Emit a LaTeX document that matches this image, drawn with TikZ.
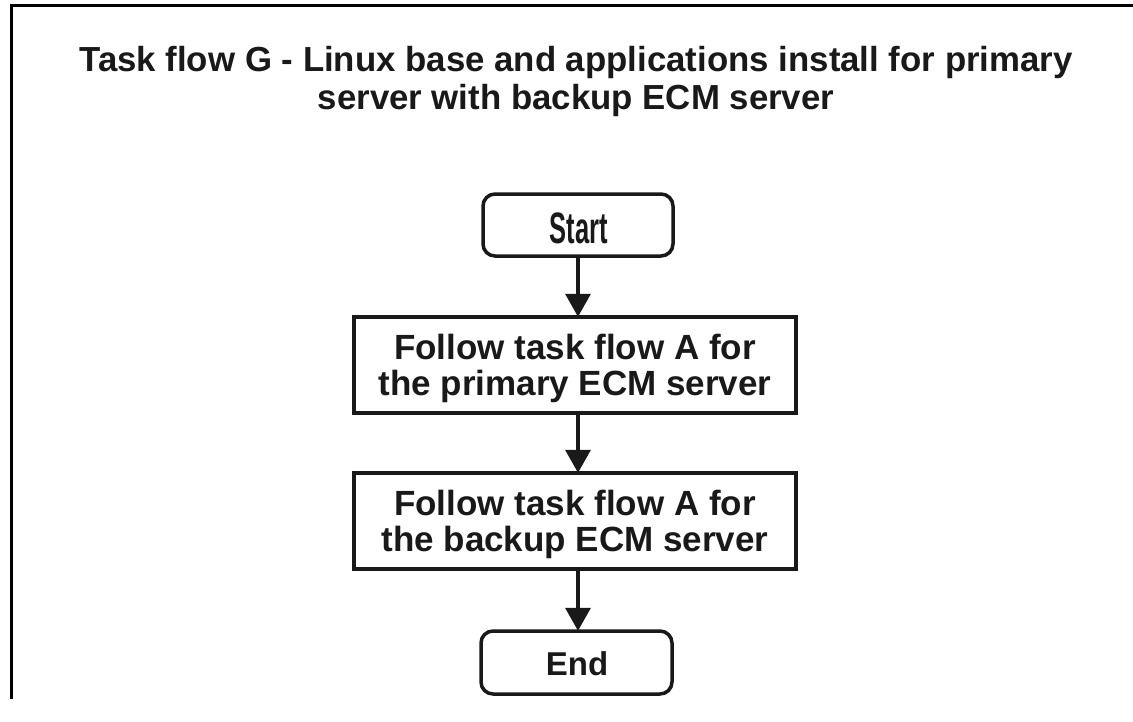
\documentclass[tikz,border=0pt]{standalone}
\usepackage{fontspec}
\setmainfont{Liberation Sans}
\usetikzlibrary{arrows.meta}
\tikzset{
  boxline/.style={line width=3.5pt, draw=black!90},
  termbox/.style={boxline, rounded corners=12pt},
  taskbox/.style={boxline},
  flowarrow/.style={line width=3.5pt, draw=black!90, -{Triangle[width=25pt,length=23pt]}},
  lbl/.style={font=\fontsize{35}{36}\selectfont\bfseries, text=black!90, align=center, inner sep=0pt},
}
\begin{document}
\begin{tikzpicture}[x=1pt,y=-1pt]
\useasboundingbox (0,0) rectangle (1133,721);
\fill[white] (0,0) rectangle (1133,721);
% frame
\coordinate (fr1) at (11.5,699);
\coordinate (fr2) at (11.5,5);
\coordinate (fr3) at (1133,5);
\draw[line width=3pt] (fr1) -- (fr2) -- (fr3);
% title
\node[lbl, font=\fontsize{34.8}{38}\selectfont\bfseries] (title) at (576,81) {Task flow G - Linux base and applications install for primary\\server with backup ECM server};
% boxes
\draw[termbox] (483,194) rectangle (673,256);
\node[inner sep=0pt, minimum width=190pt, minimum height=62pt] (start) at (578,225) {};
\node[lbl] at (579,228) {\scalebox{0.58}[1]{\fontsize{44}{45}\selectfont\bfseries Start}};
\draw[taskbox] (354,317) rectangle (796,413);
\node[inner sep=0pt, minimum width=442pt, minimum height=96pt] (a1) at (575,365) {};
\node[lbl] at (575,368) {Follow task flow A for\\the primary ECM server};
\draw[taskbox] (354,473) rectangle (796,569);
\node[inner sep=0pt, minimum width=442pt, minimum height=96pt] (a2) at (575,521) {};
\node[lbl] at (575,524) {Follow task flow A for\\the backup ECM server};
\draw[termbox] (481,631) rectangle (672,694);
\node[inner sep=0pt, minimum width=191pt, minimum height=63pt] (end) at (577,662.5) {};
\node[lbl, font=\fontsize{33}{34}\selectfont\bfseries] at (577,664) {End};
% arrows
\draw[flowarrow] (start.south -| 578,0) -- (a1.north -| 578,0);
\draw[flowarrow] (a1.south -| 578,0) -- (a2.north -| 578,0);
\draw[flowarrow] (a2.south -| 578,0) -- (end.north -| 578,0);
\end{tikzpicture}
\end{document}
